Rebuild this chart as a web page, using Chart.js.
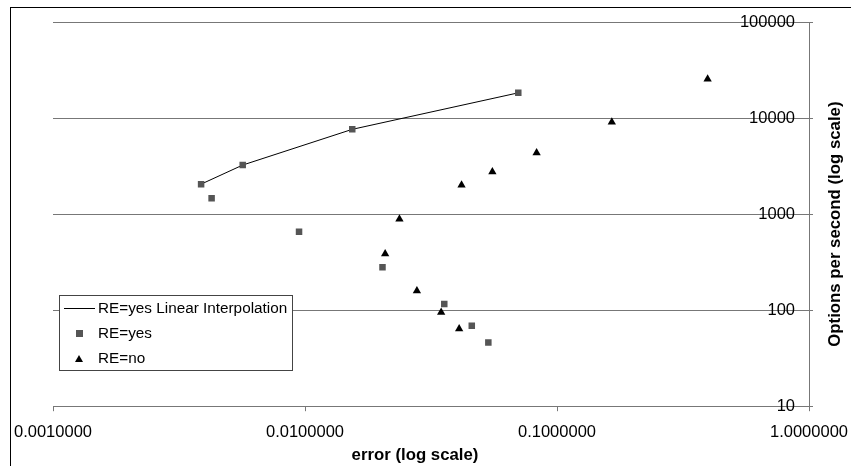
<!DOCTYPE html>
<html>
<head>
<meta charset="utf-8">
<script src="https://cdn.jsdelivr.net/npm/chart.js@4.4.0/dist/chart.umd.min.js"></script>
<style>
  html, body { margin: 0; padding: 0; background: #fff; }
  #wrap { width: 851px; height: 466px; position: relative; }
</style>
</head>
<body>
<div id="wrap"><canvas id="chart"></canvas></div>
<script>
// axis ticks (decades only)
const xTicks = [0.001, 0.01, 0.1, 1];
const yTicks = [10, 100, 1000, 10000, 100000];

// RE=yes points
const reYesErr = [0.00387, 0.00426, 0.00566, 0.00947, 0.0154, 0.0203, 0.0357, 0.0459, 0.0534, 0.0702];
const reYesOps = [2050, 1460, 3240, 654, 7630, 280, 116, 69, 46, 18300];

// RE=no points
const reNoErr = [0.0208, 0.0237, 0.0278, 0.0347, 0.0409, 0.0418, 0.0554, 0.0830, 0.165, 0.396];
const reNoOps = [386, 887, 159, 95, 64, 2005, 2760, 4350, 9090, 25500];

// RE=yes linear interpolation through the frontier points
const interpErr = [0.00387, 0.00566, 0.0154, 0.0702];
const interpOps = [2050, 3240, 7630, 18300];

const FONT = '"Liberation Sans", Arial, sans-serif';
const GRID = '#777';

function pts(xs, ys) {
  return xs.map((x, i) => ({ x: x, y: ys[i] }));
}

// frame, legend and axis titles
const extras = {
  id: 'extras',
  afterDraw(chart) {
    const ctx = chart.ctx;
    const area = chart.chartArea;
    ctx.save();
    ctx.strokeStyle = '#000';
    ctx.lineWidth = 1;
    ctx.strokeRect(10.5, 7.5, 1000, 1000);

    // legend box
    const lx = 59, ly = 295, lw = 233, lh = 75;
    ctx.fillStyle = '#fff';
    ctx.fillRect(lx, ly, lw, lh);
    ctx.strokeStyle = '#444';
    ctx.strokeRect(lx + 0.5, ly + 0.5, lw, lh);

    ctx.font = '15.3px ' + FONT;
    ctx.textAlign = 'left';
    ctx.textBaseline = 'middle';
    ctx.fillStyle = '#000';

    ctx.beginPath();
    ctx.moveTo(64, 308.5);
    ctx.lineTo(95, 308.5);
    ctx.strokeStyle = '#000';
    ctx.stroke();
    ctx.fillText('RE=yes Linear Interpolation', 98, 309);

    ctx.fillStyle = '#555';
    ctx.fillRect(76, 330, 7, 7);
    ctx.fillStyle = '#000';
    ctx.fillText('RE=yes', 98, 334);

    ctx.beginPath();
    ctx.moveTo(79, 355);
    ctx.lineTo(83, 362);
    ctx.lineTo(75, 362);
    ctx.closePath();
    ctx.fill();
    ctx.fillText('RE=no', 98, 359);

    // axis titles
    ctx.font = 'bold 16.8px ' + FONT;
    ctx.textAlign = 'center';
    ctx.fillText('error (log scale)', (area.left + area.right) / 2 - 16, 455);
    ctx.translate(835, (area.top + area.bottom) / 2 + 10);
    ctx.rotate(-Math.PI / 2);
    ctx.fillText('Options per second (log scale)', 0, 0);
    ctx.restore();
  }
};

new Chart(document.getElementById('chart'), {
  type: 'scatter',
  data: {
    datasets: [
      {
        label: 'RE=yes Linear Interpolation',
        data: pts(interpErr, interpOps),
        showLine: true,
        borderColor: '#000',
        borderWidth: 1,
        pointRadius: 0,
        order: 3
      },
      {
        label: 'RE=yes',
        data: pts(reYesErr, reYesOps),
        pointStyle: 'rect',
        pointRadius: 4.6,
        backgroundColor: '#555',
        borderWidth: 0,
        order: 2
      },
      {
        label: 'RE=no',
        data: pts(reNoErr, reNoOps),
        pointStyle: 'triangle',
        pointRadius: 4.8,
        backgroundColor: '#000',
        borderWidth: 0,
        order: 1
      }
    ]
  },
  options: {
    responsive: true,
    maintainAspectRatio: false,
    animation: false,
    layout: { padding: { left: 53, right: 38, top: 22, bottom: 13 } },
    plugins: { legend: { display: false }, tooltip: { enabled: false } },
    scales: {
      x: {
        type: 'logarithmic',
        min: 0.001,
        max: 1,
        afterBuildTicks: s => { s.ticks = xTicks.map(v => ({ value: v })); },
        afterFit: s => { s.paddingLeft = 0; s.paddingRight = 0; },
        ticks: {
          callback: v => Number(v).toFixed(7),
          font: { family: FONT, size: 16.5 },
          color: '#000',
          maxRotation: 0,
          padding: 11
        },
        grid: { drawOnChartArea: false, drawTicks: true, tickLength: 5, color: GRID },
        border: { display: true, color: GRID }
      },
      y: {
        type: 'logarithmic',
        position: 'right',
        min: 10,
        max: 100000,
        afterBuildTicks: s => { s.ticks = yTicks.map(v => ({ value: v })); },
        afterFit: s => { s.width = 4; s.paddingTop = 0; s.paddingBottom = 0; },
        ticks: {
          mirror: true,
          callback: v => String(v),
          font: { family: FONT, size: 16.5 },
          color: '#000',
          padding: -14
        },
        grid: { color: GRID, tickLength: 4 },
        border: { display: true, color: GRID }
      }
    }
  },
  plugins: [extras]
});
</script>
</body>
</html>
